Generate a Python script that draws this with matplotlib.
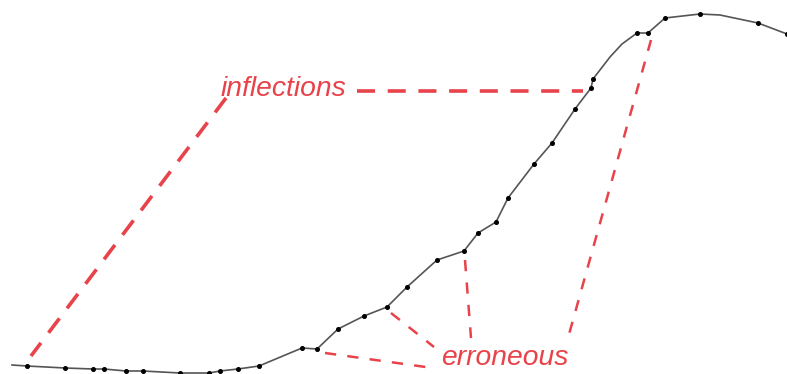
import matplotlib
matplotlib.use("Agg")
import matplotlib.pyplot as plt

# Profile trace (screen-style coordinates: y grows downward)
line_x = [12, 27, 65, 93, 104, 126, 143, 180, 209, 220, 238, 259, 302, 317, 338, 364, 387,
          407, 437, 464, 478, 496, 508, 534, 552, 575, 591, 593, 610, 622, 637, 648, 665, 700,
          720, 758, 787]
line_y = [365, 366, 368, 369, 369, 371, 371, 373, 373, 371, 369, 366, 348, 349, 329, 316, 307,
          287, 260, 251, 233, 222, 198, 164, 143, 109, 88, 79, 57, 44, 33, 33, 18, 14,
          15, 23, 34]
has_marker = [0, 1, 1, 1, 1, 1, 1, 1, 1, 1, 1, 1, 1, 1, 1, 1, 1,
              1, 1, 1, 1, 1, 1, 1, 1, 1, 1, 1, 0, 0, 1, 1, 1, 1,
              0, 1, 1]

# Callout text and leader lines
inflect_label = "inflections"
inflect_pos = (221, 96)
inflect_leaders = [((226, 98), (31, 356)), ((357, 91), (583, 91))]

error_label = "erroneous"
error_pos = (441, 365)
error_leaders = [((391, 313), (434, 347)), ((465, 260), (471, 338)),
                 ((325, 353), (433, 368)), ((651, 40), (568, 338))]

RED = "#e8434a"

fig = plt.figure(figsize=(7.87, 3.74), dpi=100)
ax = fig.add_axes([0, 0, 1, 1])
ax.set_xlim(0, 787)
ax.set_ylim(374, 0)
ax.axis("off")

for (x0, y0), (x1, y1) in inflect_leaders:
    ax.plot([x0, x1], [y0, y1], color=RED, lw=2.6, dashes=(5.0, 3.5), solid_capstyle="butt")
for (x0, y0), (x1, y1) in error_leaders:
    ax.plot([x0, x1], [y0, y1], color=RED, lw=1.8, dashes=(4.5, 4.5), solid_capstyle="butt")

ax.plot(line_x, line_y, color="#555555", lw=1.2, zorder=3)
mx = [x for x, m in zip(line_x, has_marker) if m]
my = [y for y, m in zip(line_y, has_marker) if m]
ax.plot(mx, my, ls="none", marker="o", ms=2.6, color="black", zorder=4)

ax.text(*inflect_pos, inflect_label, color=RED, fontsize=20.3, style="italic",
        family="Liberation Sans", ha="left", va="baseline")
ax.text(*error_pos, error_label, color=RED, fontsize=20.3, style="italic",
        family="Liberation Sans", ha="left", va="baseline")

fig.savefig("out.png", dpi=100)
